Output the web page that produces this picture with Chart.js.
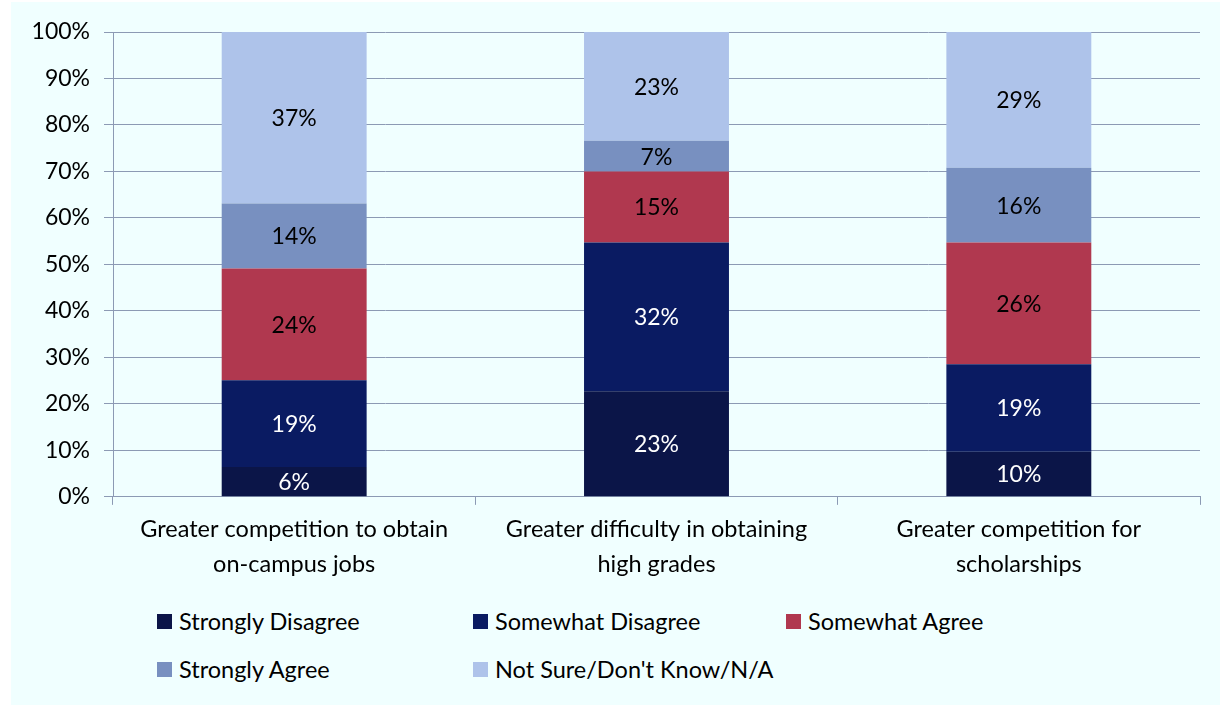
<!DOCTYPE html>
<html>
<head>
<meta charset="utf-8">
<script src="https://cdn.jsdelivr.net/npm/chart.js@4.4.1/dist/chart.umd.min.js"></script>
<style>
  html, body { margin: 0; padding: 0; background: #fff; }
  #frame {
    position: absolute; left: 11px; top: 2px; width: 1209px; height: 703px;
    background: #F0FFFF;
  }
  #wrap { position: absolute; left: 0; top: 0; width: 1209px; height: 595px; }
  #legend {
    position: absolute; left: 0; top: 604px; width: 1209px;
    font-family: Lato, "Open Sans", sans-serif; font-size: 23.5px; color: #000;
  }
  .item { position: absolute; display: flex; align-items: center; white-space: nowrap; height: 30px; }
  .sw { width: 15px; height: 15px; margin-right: 7px; }
</style>
</head>
<body>
<div id="frame">
  <div id="wrap"><canvas id="chart"></canvas></div>
  <div id="legend"></div>
</div>
<script>
// Survey: perceived effects, stacked 100% bars
const categories = [
  ["Greater competition to obtain", "on-campus jobs"],
  ["Greater difficulty in obtaining", "high grades"],
  ["Greater competition for", "scholarships"],
]
const seriesNames = [
  "Strongly Disagree", "Somewhat Disagree", "Somewhat Agree",
  "Strongly Agree", "Not Sure/Don't Know/N/A",
]
const stronglyDisagree = [6.4, 22.7, 9.7]
const somewhatDisagree = [18.7, 32.0, 18.8]
const somewhatAgree    = [24.0, 15.3, 26.2]
const stronglyAgree    = [14.0, 6.6, 16.1]
const notSure          = [36.9, 23.4, 29.2]
const yTicks = [0, 10, 20, 30, 40, 50, 60, 70, 80, 90, 100]

const colors = ["#0B1548", "#0A1B62", "#B0384F", "#7890C0", "#AEC3EA"]
const labelColors = ["#fff", "#fff", "#000", "#000", "#000"]
const FONT = 'Lato, "Open Sans", sans-serif'

const values = [stronglyDisagree, somewhatDisagree, somewhatAgree, stronglyAgree, notSure]
const datasets = values.map((v, i) => ({
  label: seriesNames[i],
  data: v,
  backgroundColor: colors[i],
  borderWidth: 0,
  categoryPercentage: 1,
  barPercentage: 0.4,
}))

// write the rounded percentage in the middle of each segment
const segmentLabels = {
  id: "segmentLabels",
  afterDatasetsDraw(chart) {
    const ctx = chart.ctx
    ctx.save()
    ctx.font = `23px ${FONT}`
    ctx.textAlign = "center"
    ctx.textBaseline = "middle"
    chart.data.datasets.forEach((ds, i) => {
      chart.getDatasetMeta(i).data.forEach((bar, j) => {
        ctx.fillStyle = labelColors[i]
        ctx.fillText(Math.round(ds.data[j]) + "%", bar.x, (bar.y + bar.base) / 2 + 1)
      })
    })
    ctx.restore()
  },
}

new Chart(document.getElementById("chart"), {
  type: "bar",
  data: { labels: categories, datasets },
  plugins: [segmentLabels],
  options: {
    responsive: true,
    maintainAspectRatio: false,
    animation: false,
    layout: { padding: { top: 30, right: 20, left: 0, bottom: 8 } },
    plugins: { legend: { display: false }, tooltip: { enabled: false } },
    scales: {
      x: {
        stacked: true,
        grid: { display: true, drawOnChartArea: false, offset: true, color: "#8C9AB4", tickLength: 8 },
        border: { color: "#8C9AB4" },
        ticks: { color: "#000", font: { family: FONT, size: 23.5, lineHeight: 1.45 }, padding: 8, maxRotation: 0 },
      },
      y: {
        stacked: true,
        min: 0,
        max: 100,
        afterBuildTicks: (axis) => { axis.ticks = yTicks.map(v => ({ value: v })) },
        grid: { color: "#8C9AB4", tickLength: 9 },
        border: { color: "#8C9AB4" },
        ticks: {
          color: "#000",
          font: { family: FONT, size: 23 },
          padding: 14,
          callback: (v) => v + "%",
        },
        afterFit: (axis) => { axis.width = 102 },
      },
    },
  },
})

// legend laid out in three columns like the original
const legendPos = [[146, 0], [462, 0], [775, 0], [146, 48], [462, 48]]
const legend = document.getElementById("legend")
seriesNames.forEach((name, i) => {
  const el = document.createElement("div")
  el.className = "item"
  el.style.left = legendPos[i][0] + "px"
  el.style.top = legendPos[i][1] + "px"
  el.innerHTML = `<span class="sw" style="background:${colors[i]}"></span><span></span>`
  el.lastChild.textContent = name
  legend.appendChild(el)
})
</script>
</body>
</html>
